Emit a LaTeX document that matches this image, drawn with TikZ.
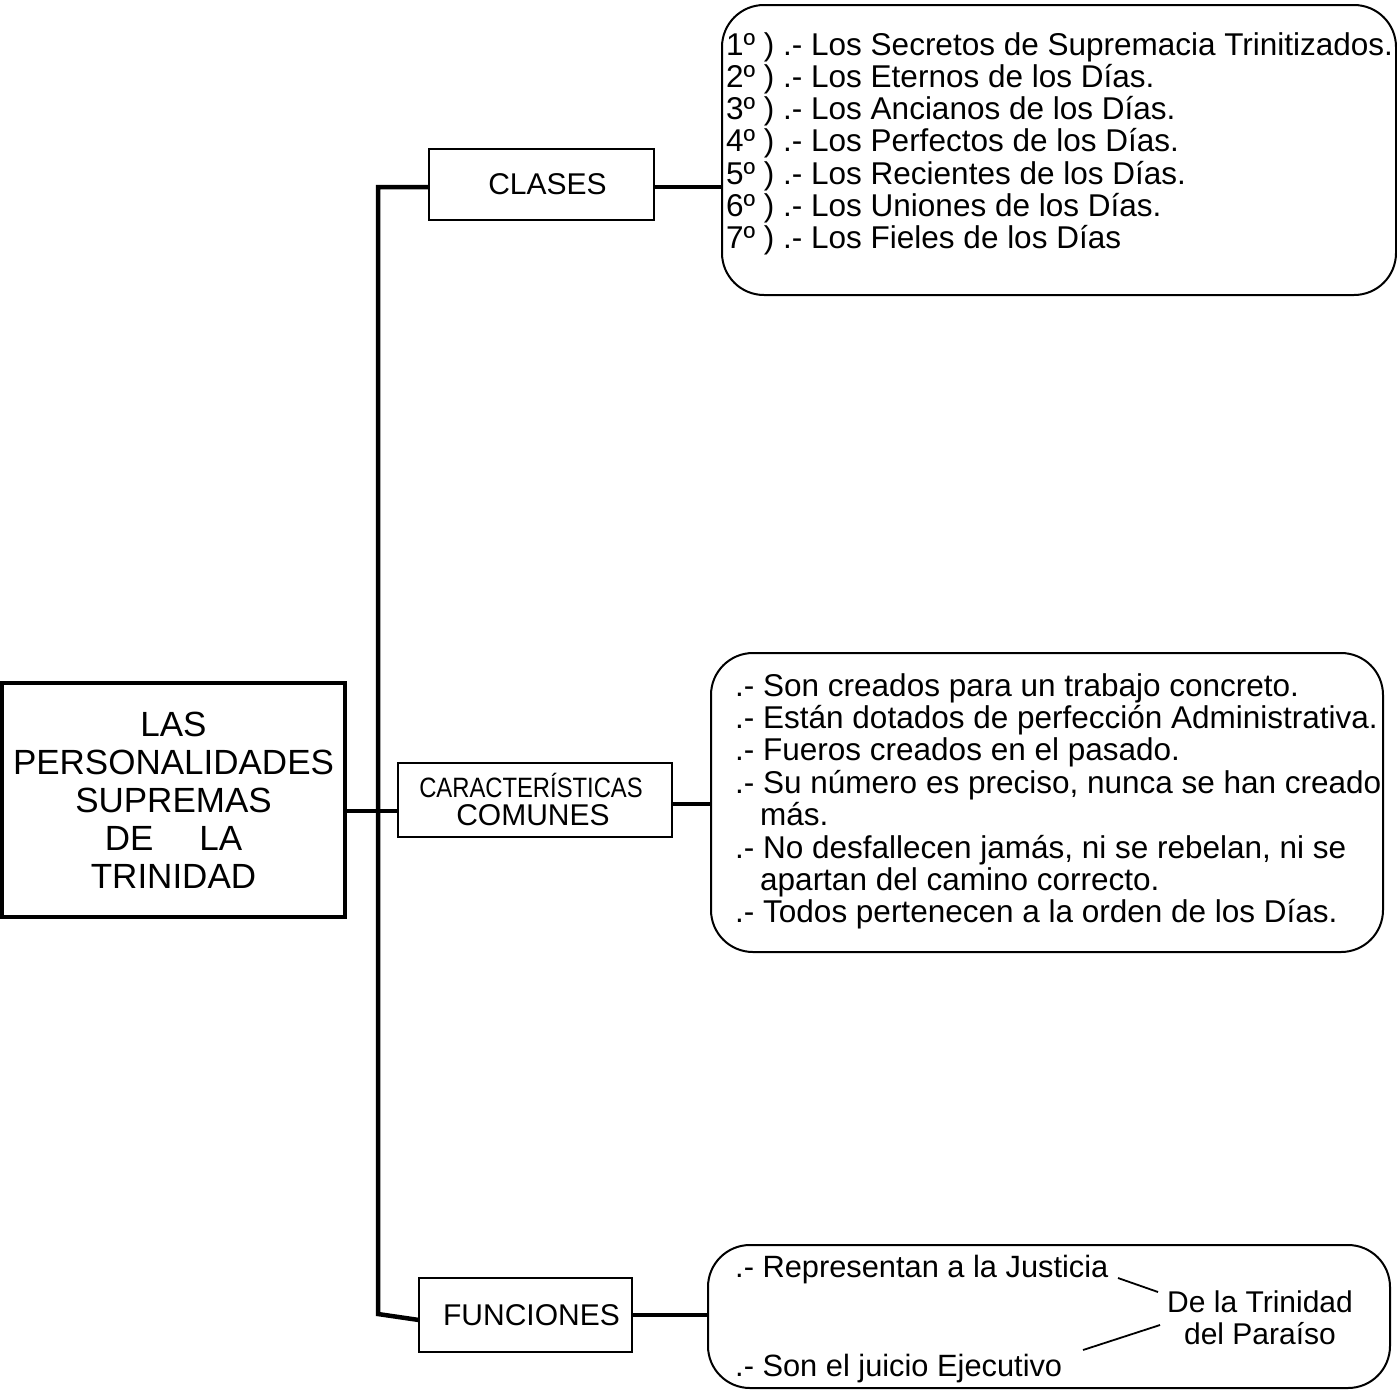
\documentclass[tikz,border=0pt]{standalone}
\usepackage{fontspec}
\setmainfont{Liberation Sans}
\usepackage{graphicx}
\begin{document}
\begin{tikzpicture}[x=1pt,y=-1pt,
  conn/.style={line width=4.5pt},
  thin/.style={line width=1.8pt},
  mainbox/.style={draw, line width=3.2pt, align=center, inner sep=0pt,
    font=\fontsize{35pt}{38pt}\selectfont},
  subbox/.style={draw, line width=1.8pt, align=center, inner sep=0pt},
  roundbox/.style={draw, line width=2pt, rounded corners=42pt, inner sep=0pt},
  item/.style={anchor=base west, inner sep=0pt, font=\fontsize{31.5pt}{33pt}\selectfont},
  fitem/.style={anchor=base west, inner sep=0pt, font=\fontsize{30.8pt}{33pt}\selectfont},
  lbl/.style={anchor=base, inner sep=0pt},
]
\useasboundingbox (0,0) rectangle (1397,1395);

% main node
\node[mainbox, minimum width=343pt, minimum height=234pt] (main) at (173.5,800)
  {LAS\\PERSONALIDADES\\SUPREMAS\\DE\hspace{46pt}LA\\TRINIDAD};

% level-1 boxes
\node[subbox, minimum width=225pt, minimum height=71pt,
  font=\fontsize{30pt}{32pt}\selectfont] (clases) at (541.5,184.5) {\hspace{12pt}CLASES};
\node[subbox, minimum width=274pt, minimum height=74pt] (carac) at (535,800) {};
\node[lbl, font=\fontsize{28pt}{28pt}\selectfont] (caract1) at (531,797)
  {\scalebox{0.85}[1]{CARACTERÍSTICAS}};
\node[lbl, font=\fontsize{30pt}{30pt}\selectfont] (caract2) at (533,825.5) {COMUNES};
\node[subbox, minimum width=213pt, minimum height=74pt,
  font=\fontsize{30pt}{32pt}\selectfont] (funciones) at (525.5,1315) {\hspace{12pt}FUNCIONES};

% rounded boxes
\node[roundbox, minimum width=674pt, minimum height=290pt] (clasesbox) at (1059,150) {};
\node[roundbox, minimum width=672pt, minimum height=299pt] (caracbox) at (1047,802.5) {};
\node[roundbox, minimum width=682pt, minimum height=143pt] (funcbox) at (1049,1316.5) {};

% trunk
\coordinate (ttop) at (378,187);
\coordinate (tbot) at (378,1314);
\coordinate (tj) at (378,811);
\coordinate (fend) at (419,1320);
\draw[conn, line join=miter] (clases.west |- ttop) -- (ttop) -- (tbot) -- (fend);
\draw[conn] (main.east |- tj) -- (carac.west |- tj);

% right connectors
\draw[conn] (clases.east |- ttop) -- (clasesbox.west |- ttop);
\draw[conn] (carac.east |- 0,804) -- (caracbox.west |- 0,804);
\draw[conn] (funciones.east) -- (funcbox.west |- funciones.east);

% clases list
\node[item] (c1) at (726,55.0) {1º ) .- Los Secretos de Supremacia Trinitizados.};
\node[item] (c2) at (726,87.3) {2º ) .- Los Eternos de los Días.};
\node[item] (c3) at (726,119.6) {3º ) .- Los Ancianos de los Días.};
\node[item] (c4) at (726,151.9) {4º ) .- Los Perfectos de los Días.};
\node[item] (c5) at (726,184.2) {5º ) .- Los Recientes de los Días.};
\node[item] (c6) at (726,216.5) {6º ) .- Los Uniones de los Días.};
\node[item] (c7) at (726,248.8) {7º ) .- Los Fieles de los Días};

% caracteristicas list
\node[item] (k1) at (735,696.0) {.- Son creados para un trabajo concreto.};
\node[item] (k2) at (735,728.4) {.- Están dotados de perfección Administrativa.};
\node[item] (k3) at (735,760.8) {.- Fueros creados en el pasado.};
\node[item] (k4) at (735,793.2) {.- Su número es preciso, nunca se han creado};
\node[item] (k5) at (760,825.6) {más.};
\node[item] (k6) at (735,858.0) {.- No desfallecen jamás, ni se rebelan, ni se};
\node[item] (k7) at (760,890.4) {apartan del camino correcto.};
\node[item] (k8) at (735,922.8) {.- Todos pertenecen a la orden de los Días.};

% funciones
\node[fitem] (f1) at (735,1277) {.- Representan a la Justicia};
\node[fitem] (f2) at (735,1376) {.- Son el juicio Ejecutivo};
\node[align=center, inner sep=0pt, font=\fontsize{30pt}{32pt}\selectfont] (trin) at (1260,1318)
  {De la Trinidad\\del Paraíso};
\coordinate (l1a) at (1118,1278);
\coordinate (l1b) at (1158,1292);
\coordinate (l2a) at (1160,1325);
\coordinate (l2b) at (1083,1350);
\draw[thin] (l1a) -- (l1b);
\draw[thin] (l2a) -- (l2b);
\end{tikzpicture}
\end{document}
